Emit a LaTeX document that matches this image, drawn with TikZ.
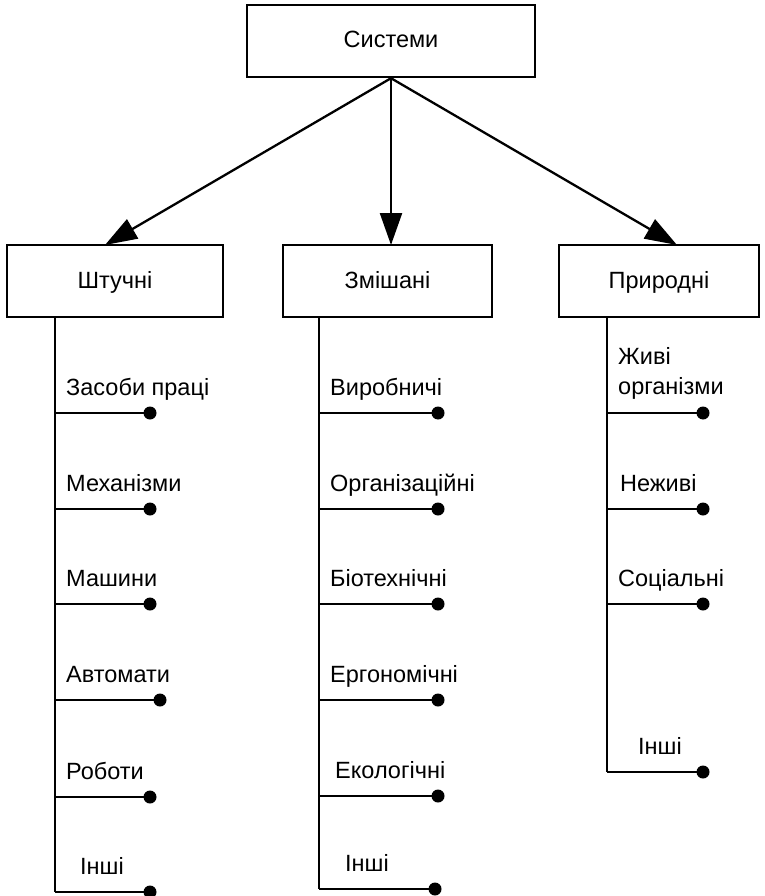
\documentclass[tikz,border=0pt]{standalone}
\usepackage{fontspec}
\setmainfont{Liberation Sans}
\usetikzlibrary{arrows.meta}
\begin{document}
\begin{tikzpicture}[x=1pt,y=-1pt,
  every node/.style={font=\fontsize{23.5}{30}\selectfont},
  box/.style={draw, line width=2.4pt, minimum height=72pt, inner sep=0pt, text height=17pt, text depth=3pt},
  lbl/.style={anchor=base west, inner sep=0pt, align=left},
  dotn/.style={circle, fill=black, minimum size=13pt, inner sep=0pt},
  ln/.style={line width=2.3pt},
  arr/.style={line width=2.3pt, -{Triangle[length=32pt,width=22pt]}}]
\useasboundingbox (0,0) rectangle (764,896);
% boxes
\node[box, minimum width=288pt] (sys) at (391,41) {Системи};
\node[box, minimum width=216pt] (sht) at (115,281) {Штучні};
\node[box, minimum width=209pt] (zmi) at (387.5,281) {Змішані};
\node[box, minimum width=200pt] (pry) at (659,281) {Природні};
% arrow targets
\coordinate (tA) at (105,245);
\coordinate (tB) at (391,245);
\coordinate (tC) at (677,245);
\draw[arr] (sys.south) -- (tA);
\draw[arr] (sys.south) -- (tB);
\draw[arr] (sys.south) -- (tC);
% left column
\foreach \i/\y/\dx/\t/\lx in {1/413/150/Засоби праці/66, 2/509/150/Механізми/66, 3/604/150/Машини/66, 4/700/160/Автомати/66, 5/797/150/Роботи/66, 6/892/150/Інші/80}{
  \coordinate (a\i s) at (55,\y);
  \node[dotn] (a\i d) at (\dx,\y) {};
  \node[lbl] (a\i t) at (\lx,\y-18) {\t};
  \draw[ln] (a\i s) -- (a\i d.center);
}
\draw[ln] (sht.south -| a1s) -- (a6s);
% middle column
\foreach \i/\y/\dx/\t/\lx in {1/413/438/Виробничі/330, 2/509/438/Організаційні/330, 3/604/438/Біотехнічні/330, 4/700/438/Ергономічні/330, 5/796/438/Екологічні/335, 6/889/435/Інші/345}{
  \coordinate (b\i s) at (319,\y);
  \node[dotn] (b\i d) at (\dx,\y) {};
  \node[lbl] (b\i t) at (\lx,\y-18) {\t};
  \draw[ln] (b\i s) -- (b\i d.center);
}
\draw[ln] (zmi.south -| b1s) -- (b6s);
% right column
\foreach \i/\y/\t/\lx in {2/509/Неживі/620, 3/604/Соціальні/618, 4/772/Інші/638}{
  \coordinate (c\i s) at (607,\y);
  \node[dotn] (c\i d) at (703,\y) {};
  \node[lbl] (c\i t) at (\lx,\y-18) {\t};
  \draw[ln] (c\i s) -- (c\i d.center);
}
\coordinate (c1s) at (607,413);
\node[dotn] (c1d) at (703,413) {};
\node[lbl] (c1t) at (618,394) {Живі\\організми};
\draw[ln] (c1s) -- (c1d.center);
\draw[ln] (pry.south -| c1s) -- (c4s);
\end{tikzpicture}
\end{document}
